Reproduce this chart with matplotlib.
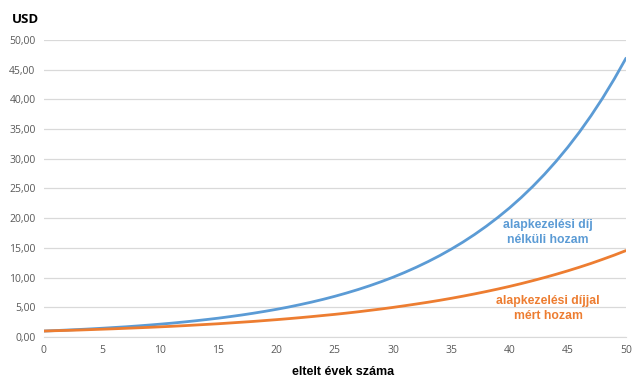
import matplotlib
matplotlib.use("Agg")
import matplotlib.pyplot as plt
from matplotlib.ticker import FuncFormatter, MultipleLocator

# év, díj nélküli hozam, díjjal mért hozam (USD)
years = list(range(0, 51))
no_fee = [1.00, 1.08, 1.17, 1.26, 1.36, 1.47, 1.59, 1.71, 1.85, 2.00,
          2.16, 2.33, 2.52, 2.72, 2.94, 3.17, 3.43, 3.70, 4.00, 4.32,
          4.66, 5.03, 5.44, 5.87, 6.34, 6.85, 7.40, 7.99, 8.63, 9.32,
          10.06, 10.87, 11.74, 12.68, 13.69, 14.79, 15.97, 17.25, 18.63, 20.12,
          21.72, 23.46, 25.34, 27.37, 29.56, 31.92, 34.47, 37.23, 40.21, 43.43,
          46.90]
with_fee = [1.00, 1.06, 1.11, 1.17, 1.24, 1.31, 1.38, 1.46, 1.54, 1.62,
            1.71, 1.80, 1.90, 2.01, 2.12, 2.23, 2.36, 2.49, 2.62, 2.77,
            2.92, 3.08, 3.25, 3.43, 3.62, 3.81, 4.02, 4.24, 4.48, 4.72,
            4.98, 5.26, 5.55, 5.85, 6.17, 6.51, 6.87, 7.25, 7.65, 8.07,
            8.51, 8.98, 9.48, 10.00, 10.55, 11.13, 11.74, 12.38, 13.07, 13.78,
            14.54]

blue = "#5B9BD5"
orange = "#ED7D31"

fig = plt.figure(figsize=(6.44, 3.81), dpi=100)
ax = fig.add_axes([0.068, 0.1155, 0.904, 0.78])

ax.plot(years, no_fee, color=blue, lw=2.0, solid_capstyle="round")
ax.plot(years, with_fee, color=orange, lw=2.0, solid_capstyle="round")

ax.set_xlim(0, 50)
ax.set_ylim(0, 50)
ax.xaxis.set_major_locator(MultipleLocator(5))
ax.yaxis.set_major_locator(MultipleLocator(5))
ax.yaxis.set_major_formatter(FuncFormatter(lambda v, p: f"{v:.2f}".replace(".", ",")))
ax.grid(axis="y", color="#d9d9d9", lw=0.9)
ax.set_axisbelow(True)
for s in ["top", "right", "left"]:
    ax.spines[s].set_visible(False)
ax.spines["bottom"].set_color("#d9d9d9")
ax.tick_params(length=0, labelsize=7.5, labelcolor="#595959", pad=6,
               labelfontfamily="Open Sans")

ax.text(43.3, 17.6, "alapkezelési díj\nnélküli hozam", color=blue, ha="center",
        va="center", fontsize=8.8, fontweight="bold", family="Liberation Sans",
        linespacing=1.4)
ax.text(43.3, 4.8, "alapkezelési díjjal\nmért hozam", color=orange, ha="center",
        va="center", fontsize=8.8, fontweight="bold", family="Liberation Sans",
        linespacing=1.4)

fig.text(0.019, 0.948, "USD", fontsize=9.5, fontweight="bold", family="Open Sans",
         va="center")
fig.text(0.532, 0.024, "eltelt évek száma", fontsize=9, fontweight="bold",
         family="Liberation Sans", ha="center", va="center")

fig.savefig("out.png", dpi=100)
